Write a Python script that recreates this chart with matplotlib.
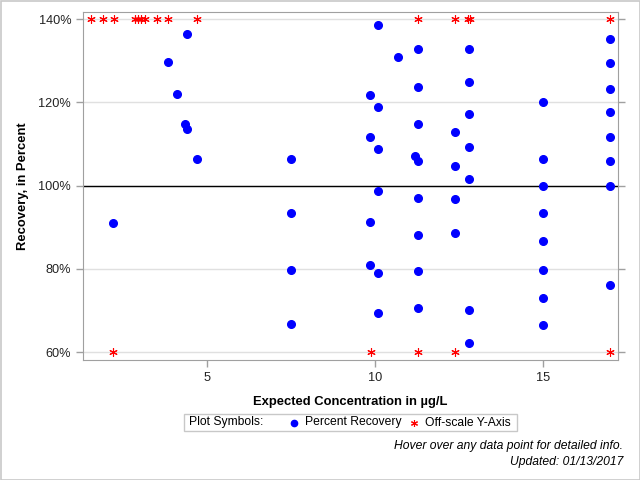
import matplotlib
matplotlib.use("Agg")
import matplotlib.pyplot as plt
from matplotlib.patches import Rectangle
from matplotlib.lines import Line2D
from matplotlib.ticker import FuncFormatter

plt.rcParams['font.family'] = ['Liberation Sans', 'DejaVu Sans']

# Percent recovery data (expected concentration, recovery %)
conc = [2.22, 3.85, 4.12, 4.36, 4.41, 4.41, 4.71,
        7.5, 7.5, 7.5, 7.5,
        9.85, 9.85, 9.85, 9.85,
        10.09, 10.09, 10.09, 10.09, 10.09, 10.09,
        10.68, 11.18,
        11.28, 11.28, 11.28, 11.28, 11.28, 11.28, 11.28, 11.28,
        12.37, 12.37, 12.37, 12.37,
        12.79, 12.79, 12.79, 12.79, 12.79, 12.79, 12.79,
        15.0, 15.0, 15.0, 15.0, 15.0, 15.0, 15.0, 15.0,
        16.97, 16.97, 16.97, 16.97, 16.97, 16.97, 16.97, 16.97]
recovery = [90.9, 129.8, 121.9, 114.9, 113.5, 136.3, 106.3,
            106.5, 93.3, 79.8, 66.7,
            121.7, 111.6, 91.2, 81.0,
            138.5, 118.8, 108.9, 98.8, 79.1, 69.3,
            130.8, 107.1,
            132.7, 123.8, 114.9, 106.0, 97.1, 88.2, 79.6, 70.7,
            112.8, 104.8, 96.7, 88.5,
            132.7, 125.0, 117.1, 109.2, 101.5, 70.2, 62.3,
            120.0, 106.5, 99.8, 93.3, 86.6, 79.8, 73.1, 66.6,
            135.1, 129.4, 123.3, 117.6, 111.6, 105.8, 99.8, 76.2]

# Off-scale points (plotted at the axis limits)
off_high_conc = [1.56, 1.91, 2.23, 2.88, 2.95, 3.05, 3.15, 3.52, 3.85, 4.71,
                 11.28, 12.37, 12.76, 12.81, 16.97]
off_high_val = [140] * len(off_high_conc)
off_low_conc = [2.22, 9.87, 11.27, 12.38, 16.99]
off_low_val = [60] * len(off_low_conc)

y_ticks = [60, 80, 100, 120, 140]
x_ticks = [5, 10, 15]

fig = plt.figure(figsize=(6.4, 4.8), dpi=100)
ax = fig.add_axes([83/640, 1-360/480, (618-83)/640, (360-12)/480])

gray = '#a0a0a0'
for y in y_ticks:
    ax.axhline(y, color='#e0e0e0', lw=1, zorder=0)
ax.axhline(100, color='black', lw=1, zorder=1)

ax.plot(conc, recovery, 'o', color='#0000ff', markersize=5.5, zorder=3)
ast = (6, 2, 0)
ax.plot(off_high_conc, off_high_val, linestyle='none', marker=ast, color='#ff0000',
        markersize=6, markeredgewidth=0.8, zorder=3)
ax.plot(off_low_conc, off_low_val, linestyle='none', marker=ast, color='#ff0000',
        markersize=6, markeredgewidth=0.8, zorder=3)

ax.set_xlim(1.32, 17.22)
ax.set_ylim(58.1, 141.7)
ax.set_xticks(x_ticks)
ax.set_yticks(y_ticks)
ax.yaxis.set_major_formatter(FuncFormatter(lambda v, p: f"{int(v)}%"))
ax.tick_params(axis='both', colors=gray, labelcolor='#222222', labelsize=9.2,
               length=5, width=1)
ax.tick_params(axis='y', right=True)
for s in ax.spines.values():
    s.set_color(gray)

ax.set_xlabel('Expected Concentration in µg/L', fontsize=9.4, fontweight='bold', labelpad=9)
ax.set_ylabel('Recovery, in Percent', fontsize=9.4, fontweight='bold', labelpad=7)

# Legend box
fig.patches.append(Rectangle((184/640, 1-431/480), (517-184)/640, 17/480,
                             transform=fig.transFigure, fill=False,
                             edgecolor='#c8c8c8', lw=1))
ly = 1-422.5/480
fs = 8.7
fig.text(189/640, ly, 'Plot Symbols:', fontsize=fs, va='center', ha='left')
fig.lines.append(Line2D([294/640], [ly], transform=fig.transFigure, marker='o',
                        color='#0000ff', markersize=4.5, linestyle='none'))
fig.text(305/640, ly, 'Percent Recovery', fontsize=fs, va='center', ha='left')
fig.lines.append(Line2D([414/640], [ly], transform=fig.transFigure, marker=ast,
                        color='#ff0000', markersize=5, markeredgewidth=0.8,
                        linestyle='none'))
fig.text(425/640, ly, 'Off-scale Y-Axis', fontsize=fs, va='center', ha='left')

fig.text(623/640, 1-446.5/480, 'Hover over any data point for detailed info.',
         fontsize=fs, style='italic', ha='right', va='center')
fig.text(623/640, 1-461.5/480, 'Updated: 01/13/2017',
         fontsize=fs, style='italic', ha='right', va='center')

# Outer border
fig.patches.append(Rectangle((0.5/640, 0.5/480), 639/640, 479/480,
                             transform=fig.transFigure, fill=False,
                             edgecolor='#c8c8c8', lw=1.2))

fig.savefig('out.png', dpi=100)
